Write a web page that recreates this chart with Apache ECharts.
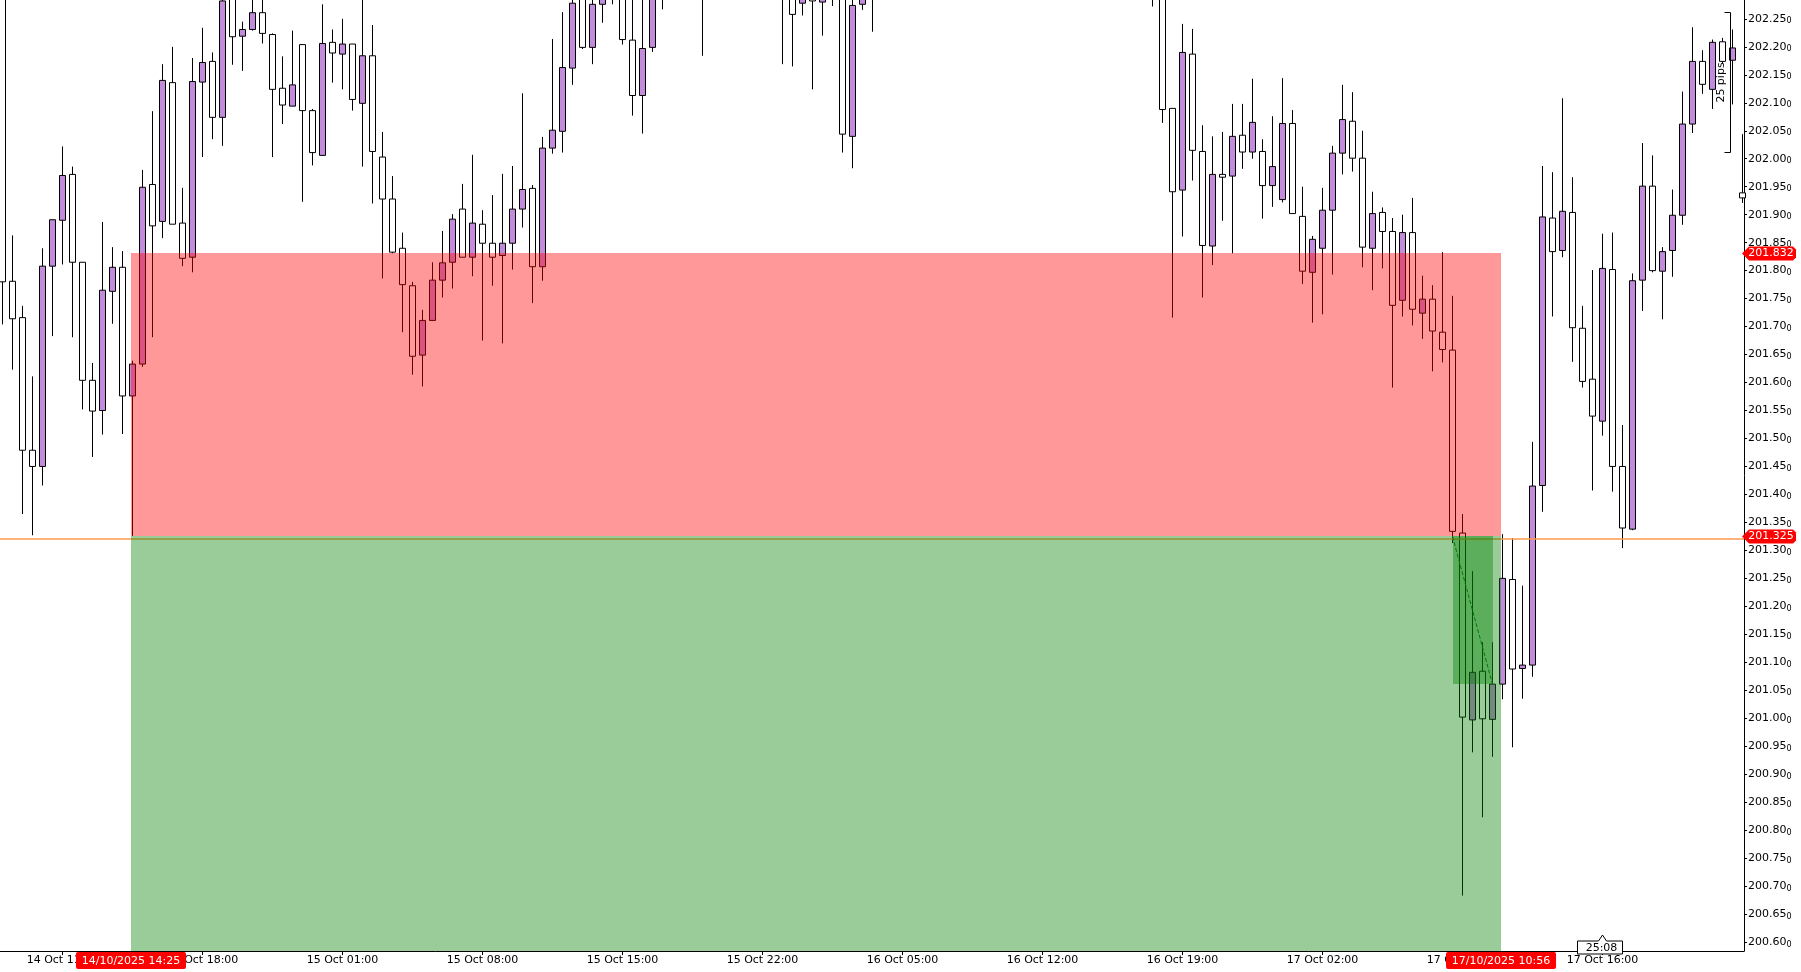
<!DOCTYPE html>
<html><head><meta charset="utf-8">
<script src="https://cdn.jsdelivr.net/npm/echarts@6/dist/echarts.min.js"></script>
<style>html,body{margin:0;padding:0;background:#fff}#c{width:1801px;height:972px}</style>
</head><body><div id="c"></div>
<script>
// M30 candles, index 0 = 14 Oct 08:00
const opens = [
202.340,201.781,201.716,201.479,201.450,201.808,201.890,201.972,201.815,201.604,
201.550,201.763,201.806,201.576,201.633,201.954,201.888,202.136,201.885,201.824,
202.137,202.174,202.074,202.295,202.219,202.231,202.261,202.222,202.126,202.094,
202.204,202.086,202.006,202.208,202.187,202.205,202.099,202.184,202.003,201.928,
201.840,201.773,201.649,201.711,201.783,201.815,201.910,201.824,201.883,201.849,
201.827,201.849,201.910,201.947,201.807,202.019,202.049,202.162,202.300,202.199,
202.276,202.310,202.330,202.212,202.113,202.199,202.320,202.350,202.370,202.340,
202.360,202.330,202.370,202.410,202.390,202.420,202.380,202.350,202.330,202.310,
202.278,202.330,202.280,202.320,202.340,202.040,202.276,202.310,202.330,202.360,
202.400,202.380,202.420,202.460,202.440,202.470,202.450,202.430,202.460,202.480,
202.450,202.420,202.440,202.410,202.430,202.400,202.420,202.390,202.410,202.380,
202.360,202.390,202.370,202.340,202.330,202.350,202.330,202.090,201.944,202.187,
202.013,201.844,201.972,201.969,202.042,202.012,202.013,201.952,201.927,202.063,
201.897,201.797,201.840,201.908,202.010,202.067,202.001,201.840,201.904,201.870,
201.747,201.868,201.724,201.749,201.690,201.658,201.331,200.997,201.084,200.998,
201.061,201.248,201.089,201.095,201.416,201.894,201.836,201.904,201.697,201.606,
201.531,201.802,201.450,201.338,201.783,201.951,201.799,201.836,201.899,202.062,
202.174,202.124,202.209,202.176,201.939
];
const closes = [
201.780,201.714,201.479,201.450,201.808,201.891,201.970,201.815,201.604,201.549,
201.765,201.806,201.576,201.633,201.949,201.880,202.140,201.883,201.822,202.138,
202.172,202.074,202.282,202.218,202.231,202.261,202.224,202.124,202.096,202.132,
202.086,202.011,202.206,202.189,202.205,202.106,202.184,202.013,201.928,201.833,
201.775,201.647,201.711,201.783,201.814,201.892,201.824,201.885,201.849,201.824,
201.849,201.910,201.945,201.807,202.019,202.051,202.163,202.278,202.199,202.276,
202.310,202.330,202.213,202.113,202.197,202.320,202.350,202.370,202.340,202.360,
202.330,202.370,202.410,202.390,202.420,202.380,202.350,202.330,202.310,202.258,
202.310,202.282,202.320,202.340,202.044,202.274,202.310,202.330,202.360,202.400,
202.380,202.420,202.460,202.440,202.470,202.450,202.430,202.460,202.480,202.450,
202.420,202.440,202.410,202.430,202.400,202.420,202.390,202.410,202.380,202.360,
202.390,202.370,202.340,202.330,202.350,202.330,202.088,201.941,202.190,202.015,
201.845,201.972,201.967,202.040,202.012,202.065,201.952,201.986,202.063,201.902,
201.799,201.856,201.908,202.010,202.070,202.001,201.842,201.902,201.870,201.738,
201.868,201.731,201.749,201.692,201.659,201.334,201.002,201.082,200.999,201.061,
201.250,201.088,201.095,201.415,201.896,201.834,201.906,201.698,201.602,201.540,
201.804,201.450,201.340,201.782,201.951,201.800,201.834,201.899,202.062,202.174,
202.133,202.208,202.174,202.198,201.930
];
const lows = [
201.704,201.623,201.365,201.327,201.416,201.683,201.811,201.681,201.552,201.467,
201.507,201.705,201.508,201.326,201.628,201.681,201.858,201.883,201.808,201.797,
202.003,202.035,202.023,202.168,202.157,202.229,202.206,202.003,202.062,202.094,
201.923,201.988,202.006,202.136,202.124,202.086,201.986,201.920,201.786,201.831,
201.690,201.614,201.593,201.711,201.752,201.768,201.824,201.790,201.675,201.773,
201.670,201.802,201.877,201.742,201.782,202.009,202.011,202.132,202.196,202.169,
202.243,202.276,202.204,202.077,202.045,202.191,202.267,202.300,202.310,202.300,
202.184,202.300,202.350,202.360,202.370,202.330,202.310,202.300,202.169,202.165,
202.256,202.124,202.220,202.273,202.011,201.983,202.266,202.227,202.300,202.340,
202.360,202.370,202.400,202.420,202.430,202.420,202.400,202.410,202.440,202.430,
202.400,202.390,202.380,202.390,202.370,202.380,202.360,202.370,202.350,202.330,
202.340,202.330,202.310,202.300,202.300,202.272,202.064,201.716,201.861,201.961,
201.752,201.810,201.889,201.831,201.982,202.000,201.893,201.914,201.922,201.902,
201.776,201.707,201.722,201.793,201.972,201.977,201.806,201.765,201.804,201.591,
201.718,201.702,201.678,201.620,201.636,201.313,200.683,200.939,200.823,200.931,
201.034,200.948,201.035,201.074,201.369,201.718,201.824,201.637,201.591,201.407,
201.505,201.405,201.304,201.336,201.728,201.797,201.713,201.789,201.882,202.046,
202.116,202.089,202.170,202.097,201.921
];
const highs = [
202.360,201.863,201.737,201.611,201.840,201.891,202.022,201.986,201.815,201.635,
201.887,201.842,201.835,201.639,201.980,202.085,202.169,202.200,201.948,202.180,
202.234,202.190,202.300,202.310,202.245,202.290,202.290,202.224,202.183,202.229,
202.204,202.089,202.276,202.231,202.250,202.205,202.290,202.239,202.048,201.969,
201.868,201.780,201.730,201.815,201.871,201.901,201.955,202.007,201.908,201.935,
201.973,201.987,202.117,201.953,202.039,202.214,202.262,202.300,202.320,202.300,
202.330,202.360,202.350,202.295,202.300,202.340,202.380,202.400,202.410,202.390,
202.380,202.400,202.430,202.440,202.450,202.440,202.400,202.370,202.350,202.330,
202.330,202.350,202.340,202.360,202.360,202.300,202.330,202.350,202.380,202.420,
202.430,202.450,202.480,202.490,202.500,202.490,202.470,202.480,202.510,202.500,
202.470,202.460,202.460,202.450,202.440,202.440,202.430,202.430,202.420,202.400,
202.410,202.400,202.390,202.360,202.370,202.370,202.350,202.090,202.241,202.232,
202.060,202.040,202.048,202.098,202.098,202.143,202.035,202.076,202.144,202.087,
201.950,201.862,201.948,202.023,202.132,202.119,202.050,201.941,201.913,201.894,
201.900,201.930,201.791,201.774,201.833,201.755,201.365,201.263,201.136,201.136,
201.329,201.322,201.237,201.494,201.987,201.976,202.108,201.967,201.737,201.801,
201.866,201.868,201.524,201.795,202.028,202.006,201.842,201.945,202.120,202.235,
202.194,202.213,202.216,202.231,202.044
];

const xTickIndex = [6,20,34,48,62,76,90,104,118,132,146,160];
const xTickLabels = ['14 Oct 11:00','14 Oct 18:00','15 Oct 01:00','15 Oct 08:00','15 Oct 15:00','15 Oct 22:00',
  '16 Oct 05:00','16 Oct 12:00','16 Oct 19:00','17 Oct 02:00','17 Oct 09:00','17 Oct 16:00'];
const yTickValues = [200.60,200.65,200.70,200.75,200.80,200.85,200.90,200.95,201.00,201.05,201.10,201.15,
  201.20,201.25,201.30,201.35,201.40,201.45,201.50,201.55,201.60,201.65,201.70,201.75,201.80,201.85,
  201.90,201.95,202.00,202.05,202.10,202.15,202.20,202.25];

// position tool (short)
const entryPrice = 201.325, stopPrice = 201.832, takePrice = 200.50;
const tradeStartIdx = 12.83, tradeEndIdx = 149.87;
const tradeStartLabel = '14/10/2025 14:25', tradeEndLabel = '17/10/2025 10:56';
const fillStartIdx = 145, fillEndIdx = 149, fillPrice = 201.061;
// ruler
const rulerIdx = 172.78, rulerTop = 202.262, rulerBottom = 202.012, rulerLabel = '25 pips';
// countdown
const countdownIdx = 159.6, countdownLabel = '25:08';

const FONT = "'DejaVu Sans', sans-serif";
const candleData = opens.map((o, i) => [i, o, closes[i], lows[i], highs[i]]);

const chart = echarts.init(document.getElementById('c'), null, {renderer: 'canvas'});
chart.setOption({
  animation: false,
  backgroundColor: '#ffffff',
  grid: {left: 0, right: 57, top: 0, bottom: 21, containLabel: false},
  xAxis: {
    type: 'value', min: -0.25, max: 174.15,
    axisLine: {show: true, onZero: false, lineStyle: {color: '#000', width: 1}},
    axisTick: {show: true, customValues: xTickIndex, length: 4, lineStyle: {color: '#000'}},
    axisLabel: {show: true, customValues: xTickIndex, margin: 4, color: '#000', fontSize: 11, fontFamily: FONT,
      formatter: v => xTickLabels[xTickIndex.indexOf(Math.round(v))] || ''},
    splitLine: {show: false}
  },
  yAxis: {
    type: 'value', position: 'right', min: 200.584, max: 202.2837, scale: true,
    axisLine: {show: true, onZero: false, lineStyle: {color: '#000', width: 1}},
    axisTick: {show: true, customValues: yTickValues, length: 3, lineStyle: {color: '#000'}},
    axisLabel: {show: true, customValues: yTickValues, margin: 4, color: '#000',
      formatter: v => '{a|' + v.toFixed(2) + '}{b|0}',
      rich: {a: {fontSize: 11, fontFamily: FONT, color: '#000', lineHeight: 13},
             b: {fontSize: 8, fontFamily: FONT, color: '#000', lineHeight: 13, verticalAlign: 'bottom', padding: [3, 0, 0, 0]}}},
    splitLine: {show: false}
  },
  series: [
    {
      type: 'candlestick', data: candleData, encode: {x: 0, y: [1, 2, 3, 4]},
      barWidth: 6, clip: true, z: 2, silent: true,
      itemStyle: {color: '#c38bdb', color0: '#ffffff', borderColor: '#000000', borderColor0: '#000000', borderWidth: 1},
      markLine: {silent: true, symbol: 'none', label: {show: false},
        lineStyle: {color: '#ff9a4d', width: 1.5, type: 'solid'}, data: [{yAxis: entryPrice}]}
    },
    {
      type: 'custom', z: 10, silent: true, clip: true,
      data: [[tradeStartIdx, entryPrice]], encode: {x: 0, y: 1},
      renderItem: (params, api) => {
        const cs = params.coordSys;
        const clampY = y => Math.max(cs.y, Math.min(cs.y + cs.height, y));
        const rect = (x0, v0, x1, v1, fill) => {
          const p0 = api.coord([x0, v0]), p1 = api.coord([x1, v1]);
          const ya = Math.round(clampY(Math.min(p0[1], p1[1]))), yb = Math.round(clampY(Math.max(p0[1], p1[1])));
          const xa = Math.round(p0[0]), xb = Math.round(p1[0]);
          return {type: 'rect', shape: {x: xa, y: ya, width: xb - xa, height: yb - ya}, style: {fill}};
        };
        const e0 = api.coord([fillStartIdx, entryPrice]), e1 = api.coord([fillEndIdx, fillPrice]);
        return {type: 'group', children: [
          rect(tradeStartIdx, stopPrice, tradeEndIdx, entryPrice, 'rgba(255,0,0,0.4)'),
          rect(tradeStartIdx, entryPrice, tradeEndIdx, takePrice, 'rgba(0,128,0,0.4)'),
          rect(fillStartIdx, entryPrice, fillEndIdx, fillPrice, 'rgba(0,128,0,0.4)'),
          {type: 'line', shape: {x1: e0[0], y1: e0[1], x2: e1[0], y2: e1[1]},
           style: {stroke: '#007a00', lineWidth: 1, lineDash: [4, 2]}}
        ]};
      }
    },
    {
      type: 'custom', z: 20, silent: true, clip: false,
      data: [[tradeStartIdx, entryPrice]], encode: {x: 0, y: 1},
      renderItem: (params, api) => {
        const cs = params.coordSys;
        const right = cs.x + cs.width, bottom = cs.y + cs.height;
        const ch = [];
        // price tags on the right axis
        [stopPrice, entryPrice].forEach(p => {
          const y = Math.round(api.coord([0, p])[1]) + 0.5;
          ch.push({type: 'polygon', shape: {points: [[right - 2, y], [right + 5, y - 7], [right + 49, y - 7], [right + 52, y - 4],
            [right + 52, y + 4], [right + 49, y + 7], [right + 5, y + 7]]}, style: {fill: '#ff0000'}});
          ch.push({type: 'text', style: {text: p.toFixed(3), x: right + 27, y: y, align: 'center', verticalAlign: 'middle',
            fill: '#ffffff', font: '11px ' + FONT}});
        });
        // time tags on the bottom axis
        [[tradeStartIdx, tradeStartLabel], [tradeEndIdx, tradeEndLabel]].forEach(([t, s]) => {
          const x = Math.round(api.coord([t, entryPrice])[0]);
          ch.push({type: 'rect', shape: {x: x - 55, y: bottom + 1, width: 110, height: 17, r: 2}, style: {fill: '#ff0000'}});
          ch.push({type: 'text', style: {text: s, x: x, y: bottom + 10, align: 'center', verticalAlign: 'middle',
            fill: '#ffffff', font: '11px ' + FONT}});
        });
        // pips ruler
        const rx = Math.round(api.coord([rulerIdx, rulerTop])[0]) + 0.5;
        const ry0 = Math.round(api.coord([rulerIdx, rulerTop])[1]) + 0.5;
        const ry1 = Math.round(api.coord([rulerIdx, rulerBottom])[1]) + 0.5;
        ch.push({type: 'polyline', shape: {points: [[rx - 6, ry0], [rx, ry0], [rx, ry1], [rx - 6, ry1]]},
          style: {stroke: '#000', lineWidth: 1, fill: null}});
        ch.push({type: 'text', x: rx - 9, y: (ry0 + ry1) / 2, rotation: Math.PI / 2,
          style: {text: rulerLabel, x: 0, y: 0, align: 'center', verticalAlign: 'middle', fill: '#000', font: '11px ' + FONT}});
        // countdown callout
        const cx = Math.round(api.coord([countdownIdx, entryPrice])[0]) + 0.5;
        const top = bottom - 10, bot = bottom + 3;
        ch.push({type: 'polygon', shape: {points: [[cx - 22, top], [cx - 1, top], [cx + 3, top - 6], [cx + 7, top],
          [cx + 23, top], [cx + 23, bot], [cx - 22, bot]]}, style: {fill: '#ffffff', stroke: '#000', lineWidth: 1}});
        ch.push({type: 'text', style: {text: countdownLabel, x: cx + 2, y: (top + bot) / 2 + 0.5, align: 'center', verticalAlign: 'middle',
          fill: '#000', font: '11px ' + FONT}});
        return {type: 'group', children: ch};
      }
    }
  ]
});
</script>
</body></html>
